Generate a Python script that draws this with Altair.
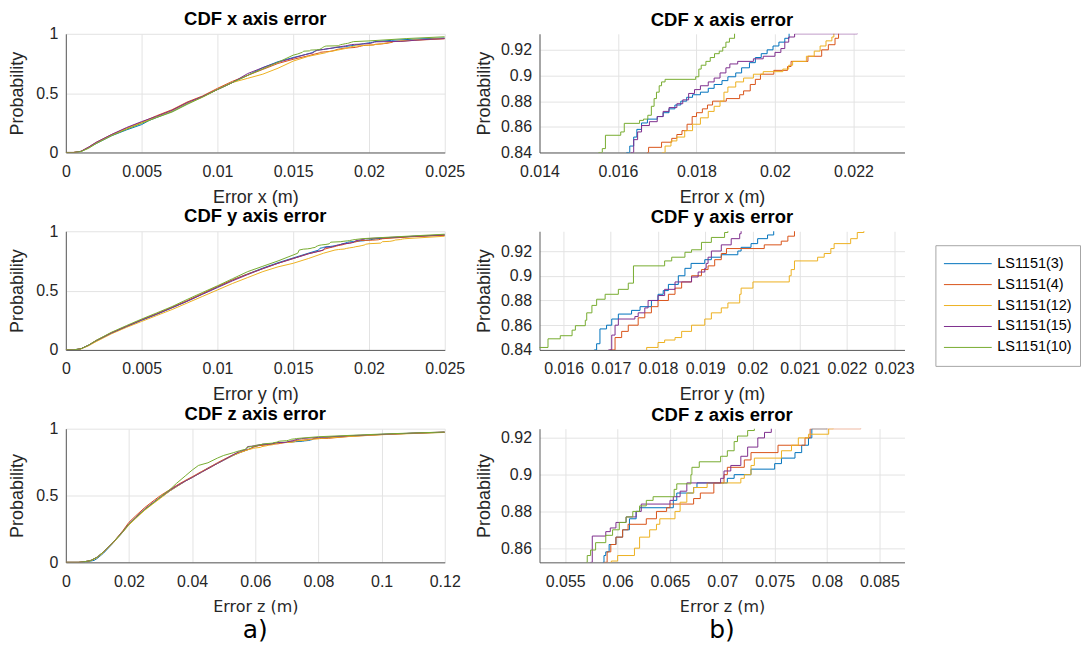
import altair as alt
import pandas as pd

NAMES = ["LS1151(3)", "LS1151(4)", "LS1151(12)", "LS1151(15)", "LS1151(10)"]
COLORS = ["#0072BD", "#D95319", "#EDB120", "#7E2F8E", "#77AC30"]

# Empirical CDFs as (error in m, cumulative probability) pairs, one list per sensor and axis.
X_LS3 = [
    (0.0000, 0.000), (0.0006, 0.000), (0.0010, 0.008), (0.0015, 0.040), (0.0020, 0.075),
    (0.0030, 0.140), (0.0040, 0.190), (0.0050, 0.235), (0.0055, 0.270), (0.0060, 0.295),
    (0.0070, 0.345), (0.0080, 0.410), (0.0090, 0.470), (0.0100, 0.530), (0.0110, 0.590),
    (0.0120, 0.650), (0.0130, 0.715), (0.0140, 0.765), (0.0150, 0.800), (0.0158, 0.825),
    (0.01622, 0.840), (0.01630, 0.845), (0.01640, 0.852), (0.01648, 0.858), (0.01660, 0.863),
    (0.01675, 0.866), (0.01700, 0.868), (0.01715, 0.871), (0.01730, 0.874), (0.01745, 0.877),
    (0.01760, 0.880), (0.01775, 0.883), (0.01790, 0.885), (0.01810, 0.887), (0.01830, 0.890),
    (0.01845, 0.893), (0.01865, 0.896), (0.01880, 0.899), (0.01900, 0.902), (0.01915, 0.906),
    (0.01935, 0.910), (0.01950, 0.914), (0.01965, 0.917), (0.01980, 0.920), (0.01995, 0.923),
    (0.02010, 0.926), (0.02025, 0.929), (0.02036, 0.934), (0.0215, 0.945), (0.0235, 0.958),
    (0.0250, 0.965),
]
X_LS4 = [
    (0.0000, 0.000), (0.0005, 0.000), (0.0010, 0.010), (0.0015, 0.045), (0.0020, 0.085),
    (0.0030, 0.150), (0.0040, 0.205), (0.0050, 0.255), (0.0060, 0.310), (0.0070, 0.360),
    (0.0080, 0.425), (0.0090, 0.475), (0.0100, 0.540), (0.0110, 0.600), (0.0120, 0.650),
    (0.0130, 0.700), (0.0140, 0.750), (0.0150, 0.785), (0.0160, 0.815),
    (0.01675, 0.840), (0.01678, 0.844), (0.01711, 0.848), (0.01737, 0.851), (0.01750, 0.854),
    (0.01763, 0.857), (0.01776, 0.862), (0.01789, 0.868), (0.01800, 0.871), (0.01815, 0.874),
    (0.01828, 0.877), (0.01841, 0.880), (0.01876, 0.882), (0.01910, 0.885), (0.01920, 0.888),
    (0.01937, 0.893), (0.01950, 0.897), (0.01963, 0.901), (0.01997, 0.904), (0.02032, 0.907),
    (0.02041, 0.911), (0.02084, 0.915), (0.02119, 0.920), (0.02136, 0.924), (0.02153, 0.929),
    (0.02162, 0.934), (0.0230, 0.945), (0.0250, 0.958),
]
X_LS12 = [
    (0.0000, 0.000), (0.0005, 0.000), (0.0010, 0.008), (0.0015, 0.040), (0.0020, 0.080),
    (0.0030, 0.145), (0.0040, 0.200), (0.0050, 0.250), (0.0060, 0.300), (0.0070, 0.350),
    (0.0080, 0.415), (0.0090, 0.465), (0.0100, 0.530), (0.0110, 0.590), (0.0120, 0.625),
    (0.0130, 0.660), (0.0140, 0.710), (0.0150, 0.770), (0.0160, 0.810),
    (0.01713, 0.840), (0.01720, 0.845), (0.01735, 0.849), (0.01750, 0.852), (0.01770, 0.857),
    (0.01790, 0.862), (0.01810, 0.867), (0.01830, 0.872), (0.01845, 0.876), (0.01860, 0.880),
    (0.01870, 0.887), (0.01880, 0.891), (0.01900, 0.895), (0.01920, 0.898), (0.01945, 0.901),
    (0.01970, 0.903), (0.02020, 0.905), (0.02035, 0.908), (0.02045, 0.911), (0.02080, 0.915),
    (0.02100, 0.919), (0.02115, 0.923), (0.02130, 0.927), (0.02145, 0.930), (0.02150, 0.934),
    (0.0230, 0.948), (0.0250, 0.962),
]
X_LS15 = [
    (0.0000, 0.000), (0.0005, 0.000), (0.0010, 0.010), (0.0015, 0.045), (0.0020, 0.085),
    (0.0030, 0.150), (0.0040, 0.210), (0.0050, 0.260), (0.0060, 0.305), (0.0070, 0.355),
    (0.0080, 0.420), (0.0090, 0.470), (0.0100, 0.530), (0.0110, 0.590), (0.0120, 0.665),
    (0.0130, 0.715), (0.0140, 0.760), (0.0150, 0.795), (0.0158, 0.825),
    (0.01633, 0.840), (0.01640, 0.850), (0.01650, 0.856), (0.01660, 0.861), (0.01680, 0.864),
    (0.01700, 0.868), (0.01715, 0.872), (0.01730, 0.875), (0.01750, 0.878), (0.01765, 0.881),
    (0.01780, 0.886), (0.01795, 0.889), (0.01810, 0.892), (0.01830, 0.895), (0.01845, 0.898),
    (0.01860, 0.902), (0.01875, 0.906), (0.01885, 0.909), (0.01905, 0.911), (0.01945, 0.913),
    (0.01970, 0.915), (0.02000, 0.918), (0.02015, 0.921), (0.02025, 0.926), (0.02035, 0.930),
    (0.02050, 0.9325), (0.02210, 0.936), (0.0235, 0.950), (0.0250, 0.960),
]
X_LS10 = [
    (0.0000, 0.000), (0.0005, 0.000), (0.0010, 0.008), (0.0015, 0.035), (0.0020, 0.075),
    (0.0030, 0.140), (0.0040, 0.195), (0.0050, 0.245), (0.0060, 0.295), (0.0070, 0.340),
    (0.0080, 0.405), (0.0090, 0.465), (0.0100, 0.530), (0.0110, 0.590), (0.0120, 0.650),
    (0.0130, 0.705), (0.0140, 0.760), (0.0150, 0.820), (0.0153, 0.830),
    (0.01551, 0.840), (0.01560, 0.843), (0.01568, 0.8534), (0.01607, 0.856), (0.01616, 0.8627),
    (0.01655, 0.865), (0.01665, 0.866), (0.01676, 0.869), (0.01685, 0.876), (0.01692, 0.882),
    (0.01698, 0.887), (0.01705, 0.892), (0.01711, 0.895), (0.01720, 0.897), (0.01798, 0.899),
    (0.01806, 0.905), (0.01812, 0.908), (0.01824, 0.911), (0.01835, 0.914), (0.01846, 0.917),
    (0.01858, 0.919), (0.01867, 0.922), (0.01875, 0.926), (0.01884, 0.929), (0.01897, 0.934),
    (0.0200, 0.940), (0.0225, 0.960), (0.0250, 0.975),
]

Y_LS3 = [
    (0.0000, 0.000), (0.0005, 0.000), (0.0010, 0.010), (0.0015, 0.040), (0.0020, 0.075),
    (0.0030, 0.140), (0.0040, 0.195), (0.0050, 0.250), (0.0060, 0.300), (0.0070, 0.355),
    (0.0080, 0.410), (0.0090, 0.470), (0.0100, 0.530), (0.0110, 0.590), (0.0120, 0.640),
    (0.0130, 0.690), (0.0140, 0.735), (0.0150, 0.775), (0.0160, 0.815),
    (0.01665, 0.840), (0.01670, 0.845), (0.01677, 0.857), (0.01691, 0.860), (0.01702, 0.865),
    (0.01716, 0.869), (0.01744, 0.872), (0.01762, 0.875), (0.01786, 0.880), (0.01800, 0.885),
    (0.01811, 0.888), (0.01822, 0.893), (0.01843, 0.900), (0.01857, 0.906), (0.01870, 0.910),
    (0.01899, 0.913), (0.01913, 0.915), (0.01934, 0.917), (0.01969, 0.920), (0.01976, 0.923),
    (0.01997, 0.926), (0.02011, 0.930), (0.02032, 0.933), (0.02045, 0.937), (0.0230, 0.958),
    (0.0250, 0.968),
]
Y_LS4 = [
    (0.0000, 0.000), (0.0005, 0.000), (0.0010, 0.010), (0.0015, 0.040), (0.0020, 0.080),
    (0.0030, 0.145), (0.0040, 0.200), (0.0050, 0.255), (0.0060, 0.305), (0.0070, 0.360),
    (0.0080, 0.415), (0.0090, 0.475), (0.0100, 0.535), (0.0110, 0.590), (0.0120, 0.640),
    (0.0130, 0.685), (0.0140, 0.730), (0.0150, 0.770), (0.0160, 0.810),
    (0.01698, 0.840), (0.01709, 0.850), (0.01723, 0.855), (0.01737, 0.860), (0.01758, 0.866),
    (0.01772, 0.870), (0.01786, 0.875), (0.01800, 0.880), (0.01822, 0.885), (0.01836, 0.890),
    (0.01850, 0.895), (0.01871, 0.900), (0.01892, 0.905), (0.01906, 0.908), (0.01920, 0.913),
    (0.01934, 0.918), (0.01945, 0.922), (0.02025, 0.925), (0.02061, 0.928), (0.02075, 0.932),
    (0.02089, 0.937), (0.0230, 0.955), (0.0250, 0.965),
]
Y_LS12 = [
    (0.0000, 0.000), (0.0005, 0.000), (0.0010, 0.008), (0.0015, 0.035), (0.0020, 0.070),
    (0.0030, 0.135), (0.0040, 0.190), (0.0050, 0.240), (0.0060, 0.290), (0.0070, 0.340),
    (0.0080, 0.395), (0.0090, 0.450), (0.0100, 0.505), (0.0110, 0.560), (0.0120, 0.610),
    (0.0130, 0.660), (0.0140, 0.700), (0.0150, 0.730), (0.0160, 0.770), (0.0170, 0.815),
    (0.01776, 0.842), (0.01800, 0.846), (0.01814, 0.848), (0.01836, 0.850), (0.01850, 0.855),
    (0.01871, 0.860), (0.01899, 0.865), (0.01913, 0.870), (0.01934, 0.874), (0.01948, 0.878),
    (0.01973, 0.885), (0.01976, 0.890), (0.02001, 0.895), (0.02078, 0.900), (0.02082, 0.905),
    (0.02089, 0.912), (0.02138, 0.915), (0.02152, 0.918), (0.02166, 0.922), (0.02173, 0.926),
    (0.02208, 0.930), (0.02222, 0.935), (0.02236, 0.937), (0.0250, 0.958),
]
Y_LS15 = [
    (0.0000, 0.000), (0.0005, 0.000), (0.0010, 0.010), (0.0015, 0.040), (0.0020, 0.078),
    (0.0030, 0.142), (0.0040, 0.198), (0.0050, 0.252), (0.0060, 0.302), (0.0070, 0.355),
    (0.0080, 0.410), (0.0090, 0.468), (0.0100, 0.525), (0.0110, 0.582), (0.0120, 0.635),
    (0.0130, 0.685), (0.0140, 0.730), (0.0150, 0.770), (0.0160, 0.810),
    (0.01695, 0.840), (0.01702, 0.852), (0.01709, 0.860), (0.01716, 0.865), (0.01751, 0.867),
    (0.01758, 0.870), (0.01772, 0.874), (0.01779, 0.880), (0.01800, 0.884), (0.01814, 0.889),
    (0.01836, 0.895), (0.01871, 0.899), (0.01885, 0.903), (0.01899, 0.906), (0.01902, 0.910),
    (0.01906, 0.915), (0.01913, 0.920), (0.01934, 0.925), (0.01955, 0.930), (0.01973, 0.934),
    (0.01976, 0.937), (0.0220, 0.952), (0.0250, 0.970),
]
Y_LS10 = [
    (0.0000, 0.000), (0.0005, 0.000), (0.0010, 0.010), (0.0015, 0.040), (0.0020, 0.080),
    (0.0030, 0.148), (0.0040, 0.205), (0.0050, 0.260), (0.0060, 0.312), (0.0070, 0.365),
    (0.0080, 0.425), (0.0090, 0.483), (0.0100, 0.540), (0.0110, 0.600), (0.0120, 0.660),
    (0.0130, 0.705), (0.0140, 0.750), (0.0150, 0.800), (0.0153, 0.815),
    (0.01540, 0.842), (0.01567, 0.849), (0.01593, 0.8515), (0.01618, 0.856), (0.01625, 0.8596),
    (0.01646, 0.864), (0.01649, 0.870), (0.01660, 0.876), (0.01670, 0.881), (0.01688, 0.885),
    (0.01716, 0.889), (0.01737, 0.894), (0.01748, 0.908), (0.01814, 0.912), (0.01829, 0.915),
    (0.01857, 0.919), (0.01871, 0.921), (0.01892, 0.927), (0.01913, 0.931), (0.01941, 0.935),
    (0.01948, 0.937), (0.0210, 0.948), (0.0250, 0.975),
]

Z_LS3 = [
    (0.000, 0.000), (0.005, 0.000), (0.007, 0.005), (0.009, 0.015), (0.010, 0.030),
    (0.012, 0.070), (0.015, 0.145), (0.018, 0.225), (0.020, 0.285), (0.022, 0.330),
    (0.025, 0.395), (0.028, 0.450), (0.030, 0.485), (0.033, 0.535), (0.035, 0.565),
    (0.038, 0.610), (0.040, 0.635), (0.043, 0.675), (0.045, 0.705), (0.048, 0.740),
    (0.050, 0.765), (0.053, 0.800), (0.055, 0.820), (0.057, 0.838),
    (0.05861, 0.8523), (0.05870, 0.856), (0.05887, 0.858), (0.05919, 0.862), (0.05984, 0.866),
    (0.06048, 0.870), (0.06113, 0.876), (0.06177, 0.880), (0.06210, 0.882), (0.06532, 0.886),
    (0.06565, 0.890), (0.06726, 0.893), (0.06758, 0.8955), (0.07048, 0.898), (0.07113, 0.900),
    (0.07274, 0.903), (0.07500, 0.906), (0.07565, 0.909), (0.07694, 0.912), (0.07758, 0.916),
    (0.07823, 0.920), (0.07855, 0.925), (0.0800, 0.928), (0.090, 0.945), (0.100, 0.957),
    (0.110, 0.966), (0.120, 0.973),
]
Z_LS4 = [
    (0.000, 0.000), (0.004, 0.000), (0.006, 0.005), (0.008, 0.015), (0.010, 0.040),
    (0.012, 0.080), (0.015, 0.150), (0.018, 0.235), (0.020, 0.300), (0.022, 0.345),
    (0.025, 0.410), (0.028, 0.465), (0.030, 0.500), (0.033, 0.545), (0.035, 0.575),
    (0.038, 0.615), (0.040, 0.640), (0.043, 0.680), (0.045, 0.705), (0.048, 0.745),
    (0.050, 0.770), (0.053, 0.805), (0.055, 0.822), (0.057, 0.838),
    (0.05871, 0.8523), (0.05900, 0.858), (0.05935, 0.862), (0.05984, 0.866), (0.06048, 0.870),
    (0.06100, 0.873), (0.06274, 0.876), (0.06371, 0.880), (0.06468, 0.882), (0.06500, 0.884),
    (0.06726, 0.887), (0.06790, 0.890), (0.06919, 0.8955), (0.07016, 0.900), (0.07048, 0.904),
    (0.07210, 0.908), (0.07274, 0.912), (0.07532, 0.916), (0.07790, 0.920), (0.07839, 0.925),
    (0.08323, 0.928), (0.090, 0.943), (0.100, 0.956), (0.110, 0.966), (0.120, 0.974),
]
Z_LS12 = [
    (0.000, 0.000), (0.004, 0.000), (0.006, 0.004), (0.008, 0.012), (0.010, 0.035),
    (0.012, 0.075), (0.015, 0.145), (0.018, 0.225), (0.020, 0.280), (0.022, 0.325),
    (0.025, 0.390), (0.028, 0.445), (0.030, 0.480), (0.033, 0.535), (0.035, 0.565),
    (0.038, 0.610), (0.040, 0.635), (0.043, 0.675), (0.045, 0.700), (0.048, 0.740),
    (0.050, 0.765), (0.053, 0.800), (0.055, 0.820), (0.058, 0.845),
    (0.05935, 0.8523), (0.05940, 0.853), (0.06000, 0.856), (0.06161, 0.860), (0.06210, 0.866),
    (0.06306, 0.870), (0.06371, 0.873), (0.06403, 0.876), (0.06548, 0.880), (0.06597, 0.885),
    (0.06661, 0.890), (0.06726, 0.893), (0.06855, 0.8955), (0.07177, 0.898), (0.07210, 0.900),
    (0.07274, 0.905), (0.07306, 0.909), (0.07565, 0.913), (0.07661, 0.916), (0.07726, 0.920),
    (0.07823, 0.922), (0.08016, 0.925), (0.0806, 0.928), (0.090, 0.942), (0.100, 0.955),
    (0.110, 0.964), (0.120, 0.972),
]
Z_LS15 = [
    (0.000, 0.000), (0.004, 0.000), (0.006, 0.005), (0.008, 0.015), (0.010, 0.040),
    (0.012, 0.080), (0.015, 0.150), (0.018, 0.230), (0.020, 0.290), (0.022, 0.335),
    (0.025, 0.400), (0.028, 0.455), (0.030, 0.490), (0.033, 0.540), (0.035, 0.570),
    (0.038, 0.610), (0.040, 0.635), (0.043, 0.675), (0.045, 0.700), (0.048, 0.740),
    (0.050, 0.765), (0.053, 0.805), (0.055, 0.830), (0.0570, 0.845),
    (0.05742, 0.8523), (0.05758, 0.8666), (0.05887, 0.869), (0.05930, 0.871), (0.05984, 0.874),
    (0.06081, 0.877), (0.06177, 0.880), (0.06226, 0.884), (0.06500, 0.886), (0.06532, 0.888),
    (0.06597, 0.891), (0.06661, 0.8955), (0.06984, 0.898), (0.07016, 0.902), (0.07081, 0.905),
    (0.07177, 0.910), (0.07242, 0.915), (0.07339, 0.920), (0.07403, 0.923), (0.07468, 0.9265),
    (0.080, 0.935), (0.090, 0.948), (0.100, 0.958), (0.110, 0.967), (0.120, 0.975),
]
Z_LS10 = [
    (0.000, 0.000), (0.004, 0.000), (0.006, 0.005), (0.008, 0.015), (0.010, 0.040),
    (0.012, 0.080), (0.015, 0.150), (0.018, 0.228), (0.020, 0.285), (0.022, 0.330),
    (0.025, 0.395), (0.028, 0.450), (0.030, 0.490), (0.033, 0.545), (0.035, 0.590),
    (0.038, 0.650), (0.040, 0.690), (0.042, 0.725), (0.045, 0.745), (0.048, 0.780),
    (0.050, 0.800), (0.053, 0.820), (0.055, 0.835), (0.0568, 0.845),
    (0.05703, 0.8523), (0.05710, 0.856), (0.05742, 0.859), (0.05790, 0.863), (0.05887, 0.867),
    (0.05952, 0.870), (0.06016, 0.874), (0.06081, 0.877), (0.06145, 0.880), (0.06210, 0.883),
    (0.06274, 0.886), (0.06339, 0.888), (0.06540, 0.892), (0.06565, 0.895), (0.06700, 0.900),
    (0.06710, 0.904), (0.06780, 0.907), (0.06984, 0.910), (0.07048, 0.913), (0.07113, 0.918),
    (0.07145, 0.921), (0.07242, 0.924), (0.07306, 0.9265), (0.080, 0.940), (0.090, 0.950),
    (0.100, 0.960), (0.110, 0.968), (0.120, 0.975),
]

# Axis tick values
LEFT_X_TICKS = [0, 0.005, 0.01, 0.015, 0.02, 0.025]
LEFT_Y_TICKS = [0, 0.5, 1]
LEFT_Z_TICKS = [0, 0.02, 0.04, 0.06, 0.08, 0.1, 0.12]
ZOOM_X_TICKS = [0.014, 0.016, 0.018, 0.02, 0.022]
ZOOM_Y_TICKS = [0.016, 0.017, 0.018, 0.019, 0.02, 0.021, 0.022, 0.023]
ZOOM_Z_TICKS = [0.055, 0.06, 0.065, 0.07, 0.075, 0.08, 0.085]
ZOOM_P_TICKS = [0.84, 0.86, 0.88, 0.9, 0.92]
ZOOM_PZ_TICKS = [0.86, 0.88, 0.9, 0.92]

SANS = "Liberation Sans"
ALT_SANS = "DejaVu Sans"
TICK_FMT = ".3~g"


def cdf_frame(curves):
    rows = []
    for name, pts in zip(NAMES, curves):
        for err, prob in pts:
            rows.append({"series": name, "err": err, "prob": prob})
    return pd.DataFrame(rows)


DF_X = cdf_frame([X_LS3, X_LS4, X_LS12, X_LS15, X_LS10])
DF_Y = cdf_frame([Y_LS3, Y_LS4, Y_LS12, Y_LS15, Y_LS10])
DF_Z = cdf_frame([Z_LS3, Z_LS4, Z_LS12, Z_LS15, Z_LS10])


def panel(df, title, xtitle, xdom, xticks, ydom, yticks, width, height,
          interp, ytitle_pad, title_offset, xtitle_font=SANS, xtitle_size=18, tag=None):
    lines = alt.Chart(df).mark_line(
        interpolate=interp, clip=True, strokeWidth=1
    ).encode(
        x=alt.X("err:Q",
                scale=alt.Scale(domain=xdom, nice=False, zero=False),
                axis=alt.Axis(values=xticks, format=TICK_FMT, title=xtitle,
                              titleFont=xtitle_font, titleFontSize=xtitle_size)),
        y=alt.Y("prob:Q",
                scale=alt.Scale(domain=ydom, nice=False, zero=False),
                axis=alt.Axis(values=yticks, format=TICK_FMT, title="Probability",
                              titlePadding=ytitle_pad)),
        color=alt.Color("series:N",
                        scale=alt.Scale(domain=NAMES, range=COLORS),
                        title=None,
                        legend=alt.Legend(direction="vertical")),
    )
    layers = [lines]
    if tag is not None:
        tag_mark = alt.Chart(pd.DataFrame({"tag": [tag]})).mark_text(
            font=ALT_SANS, fontSize=25, align="center", baseline="alphabetic",
            color="#000000"
        ).encode(
            text="tag:N",
            x=alt.value(width / 2),
            y=alt.value(height + 76),
        )
        layers.append(tag_mark)
    return alt.layer(*layers).properties(
        width=width,
        height=height,
        title=alt.TitleParams(title, font=SANS, fontSize=18.5, fontWeight="bold",
                              color="#000000", anchor="middle", frame="group",
                              offset=title_offset),
    )


LW, RW = 380, 366
H1, H3 = 119, 134

panels = [
    panel(DF_X, "CDF x axis error", "Error x (m)", [0, 0.025], LEFT_X_TICKS,
          [0, 1], LEFT_Y_TICKS, LW, H1, "linear", 9, -2.5),
    panel(DF_X, "CDF x axis error", "Error x (m)", [0.014, 0.0233], ZOOM_X_TICKS,
          [0.84, 0.9325], ZOOM_P_TICKS, RW, H1, "step-after", 7, 4.5),
    panel(DF_Y, "CDF y axis error", "Error y (m)", [0, 0.025], LEFT_X_TICKS,
          [0, 1], LEFT_Y_TICKS, LW, H1, "linear", 9, -2.5),
    panel(DF_Y, "CDF y axis error", "Error y (m)", [0.01549, 0.02322], ZOOM_Y_TICKS,
          [0.84, 0.936], ZOOM_P_TICKS, RW, H1, "step-after", 7, 4.5),
    panel(DF_Z, "CDF z axis error", "Error z (m)", [0, 0.12], LEFT_Z_TICKS,
          [0, 1], LEFT_Y_TICKS, LW, H3, "linear", 9, -2.5,
          xtitle_font=ALT_SANS, xtitle_size=16, tag="a)"),
    panel(DF_Z, "CDF z axis error", "Error z (m)", [0.05254, 0.0874], ZOOM_Z_TICKS,
          [0.8523, 0.925], ZOOM_PZ_TICKS, RW, H3, "step-after", 7, 4.5,
          xtitle_font=ALT_SANS, xtitle_size=16, tag="b)"),
]

chart = alt.concat(
    *panels, columns=2, spacing={"row": 79, "column": 95}, bounds="flush"
).resolve_scale(
    color="shared"
).properties(
    padding={"left": 8, "top": 9, "right": 0, "bottom": 0},
    background="#ffffff",
).configure_view(
    stroke=None
).configure_axis(
    labelFont=SANS, labelFontSize=16, labelColor="#262626",
    titleFont=SANS, titleFontSize=18, titleFontWeight="normal", titleColor="#262626",
    grid=True, gridColor="#e3e3e3", gridWidth=1,
    domainColor="#5a5a5a", domainWidth=1,
    ticks=False, labelFlush=False, labelOverlap=False,
).configure_axisX(
    labelPadding=11, titlePadding=9,
).configure_axisY(
    labelPadding=8,
).configure_legend(
    orient="none", legendX=872, legendY=212,
    strokeColor="#a6a6a6", fillColor="#ffffff", padding=8, cornerRadius=0,
    symbolType="stroke", symbolSize=2304, symbolStrokeWidth=1,
    clipHeight=21, rowPadding=0, labelOffset=5, symbolOffset=0,
    labelFont=SANS, labelFontSize=14.5, labelColor="#000000",
)

chart.save("out.html", embed_options={"renderer": "svg", "actions": False})
